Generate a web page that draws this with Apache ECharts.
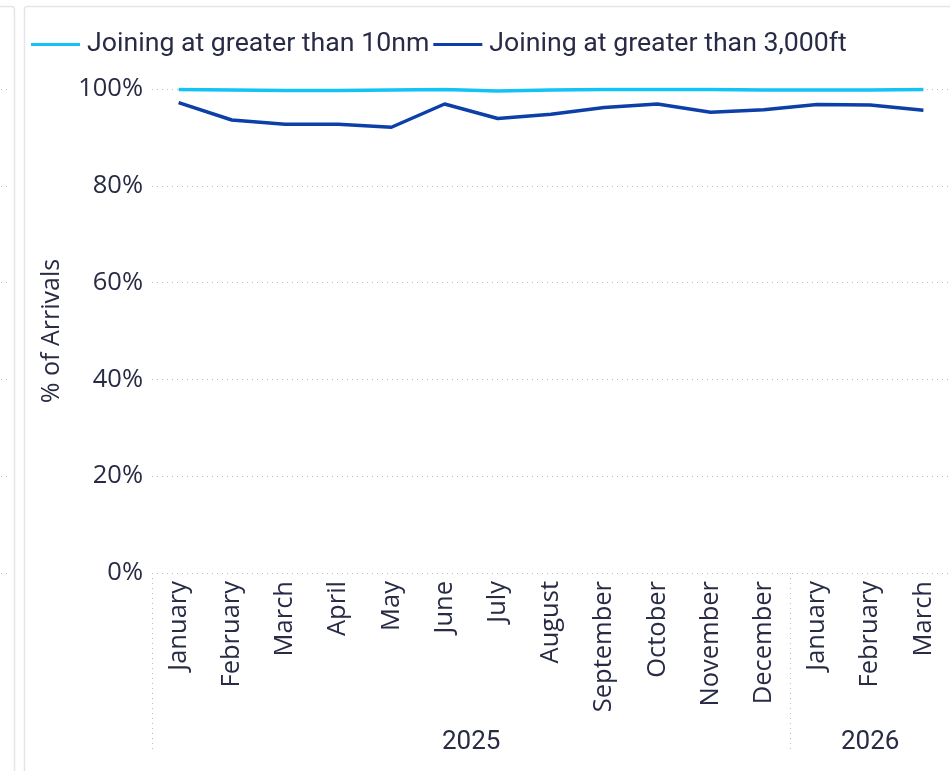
<!DOCTYPE html>
<html>
<head>
<meta charset="utf-8">
<script src="https://cdn.jsdelivr.net/npm/echarts@6/dist/echarts.min.js"></script>
<style>
html,body{margin:0;padding:0;background:#fff;}
#c{width:950px;height:771px;}
</style>
</head>
<body>
<div id="c"></div>
<script>
const months = ['January','February','March','April','May','June','July','August','September','October','November','December','January','February','March'];
const years = ['2025','2026'];
const yearMonthCounts = [12, 3];
const seriesNames = ['Joining at greater than 10nm','Joining at greater than 3,000ft'];
const joining10nm = [99.9, 99.8, 99.7, 99.7, 99.8, 99.9, 99.6, 99.8, 99.9, 99.9, 99.9, 99.8, 99.8, 99.8, 99.9];
const joining3000ft = [97.2, 93.6, 92.7, 92.7, 92.1, 96.9, 93.9, 94.8, 96.2, 96.9, 95.2, 95.7, 96.8, 96.7, 95.6];
const yTicks = [0, 20, 40, 60, 80, 100];

const textColor = '#282b45';
const gridColor = '#bdbdbd';
const mainFont = '"Open Sans", "Noto Sans", sans-serif';
const narrowFont = 'Roboto, "Noto Sans", sans-serif';

const yearStarts = [];
const yearCentres = [];
let acc = 0;
yearMonthCounts.forEach(n => { yearStarts.push(acc); yearCentres.push(acc + n / 2); acc += n; });

const chart = echarts.init(document.getElementById('c'));
chart.setOption({
  backgroundColor: '#fff',
  animation: false,
  graphic: [
    {type: 'rect', shape: {x: -20.5, y: 6.5, width: 35, height: 800, r: 3}, style: {fill: 'none', stroke: '#e3e5ea', lineWidth: 1.5}, silent: true},
    {type: 'rect', shape: {x: 24.5, y: 6.5, width: 1000, height: 800, r: 3}, style: {fill: 'none', stroke: '#e3e5ea', lineWidth: 1.5}, silent: true}
  ],
  legend: {
    left: 26, top: 26,
    icon: 'rect', itemWidth: 49, itemHeight: 3, itemGap: 4,
    textStyle: {fontFamily: narrowFont, fontSize: 26.7, color: textColor, padding: [0, 0, 0, 2]},
    data: seriesNames
  },
  grid: [
    {left: 152, right: 0, top: 89, bottom: 198, containLabel: false},
    {left: 1, width: 8, top: 89, bottom: 198, containLabel: false}
  ],
  xAxis: [
    {
      type: 'category', gridIndex: 0, data: months, position: 'bottom', boundaryGap: true,
      axisLine: {show: false}, axisTick: {show: false},
      axisLabel: {rotate: 90, interval: 0, margin: 8, fontFamily: mainFont, fontSize: 25.5, color: textColor}
    },
    {
      type: 'value', gridIndex: 0, min: 0, max: months.length, position: 'bottom',
      axisLine: {show: false}, splitLine: {show: false},
      axisTick: {show: true, customValues: yearStarts, length: 178, lineStyle: {color: gridColor, type: [1, 4], width: 1}},
      axisLabel: {
        customValues: yearCentres, margin: 156, fontFamily: narrowFont, fontSize: 26, color: textColor,
        formatter: v => years[yearCentres.indexOf(v)] || ''
      }
    },
    {type: 'category', gridIndex: 1, data: months, show: false}
  ],
  yAxis: [
    {
      type: 'value', gridIndex: 0, min: yTicks[0], max: yTicks[yTicks.length - 1], interval: 20,
      name: '% of Arrivals', nameLocation: 'middle', nameRotate: 90, nameGap: 88,
      nameTextStyle: {fontFamily: mainFont, fontSize: 25, color: textColor},
      axisLine: {show: false}, axisTick: {show: false},
      axisLabel: {formatter: '{value}%', margin: 9, fontFamily: mainFont, fontSize: 25.5, color: textColor},
      splitLine: {show: true, lineStyle: {color: gridColor, type: [1, 4], width: 1}}
    },
    {
      type: 'value', gridIndex: 1, min: yTicks[0], max: yTicks[yTicks.length - 1], interval: 20,
      axisLine: {show: false}, axisTick: {show: false}, axisLabel: {show: false},
      splitLine: {show: true, lineStyle: {color: gridColor, type: [1, 4], width: 1}}
    }
  ],
  series: [
    {
      name: seriesNames[0], type: 'line', xAxisIndex: 0, yAxisIndex: 0, data: joining10nm,
      symbol: 'none', smooth: false, lineStyle: {color: '#12c3f4', width: 3.5}, itemStyle: {color: '#12c3f4'}
    },
    {
      name: seriesNames[1], type: 'line', xAxisIndex: 0, yAxisIndex: 0, data: joining3000ft,
      symbol: 'none', smooth: false, lineStyle: {color: '#0d3fa8', width: 3.5}, itemStyle: {color: '#0d3fa8'}
    }
  ]
});
</script>
</body>
</html>
